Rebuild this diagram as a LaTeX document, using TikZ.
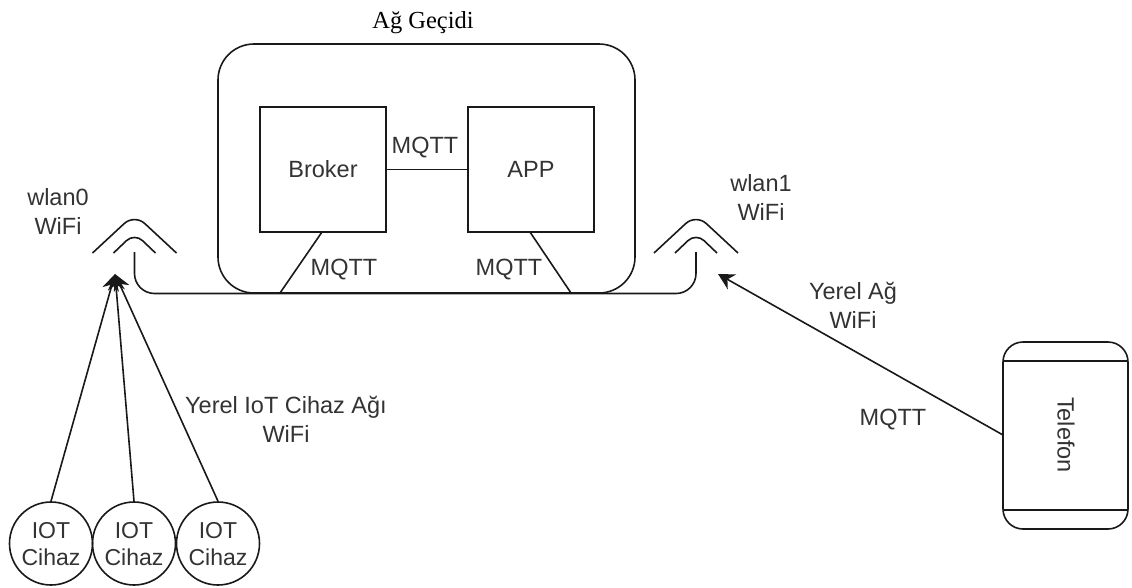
\documentclass[tikz,border=0pt]{standalone}
\usepackage{fontspec}
\setmainfont{Liberation Sans}
\newfontfamily\serifa{Liberation Serif}
\usetikzlibrary{arrows.meta}
\tikzset{
  ln/.style={draw=black!90,line width=1.6pt},
  lab/.style={font=\fontsize{23.5}{29}\selectfont,text=black!80,align=center,inner sep=0pt},
  box/.style={ln,minimum width=126pt,minimum height=125pt,inner sep=0pt},
  iot/.style={ln,circle,minimum size=83pt,inner sep=0pt,text depth=-1pt,font=\fontsize{23}{27}\selectfont,text=black!80,align=center},
  tip/.style={-{Stealth[length=16pt,width=17pt]}}
}
\begin{document}
\begin{tikzpicture}[x=1pt,y=-1pt]
\useasboundingbox (0,0) rectangle (1132,587);
% gateway
\draw[ln,rounded corners=36pt] (218,293) rectangle (635,44);
\node[lab,font=\serifa\fontsize{24.5}{28}\selectfont,text=black] (title) at (423,23) {Ağ Geçidi};
\node[box,lab,draw=black!90] (broker) at (323,169.5) {Broker};
\node[box,lab,draw=black!90] (app) at (531,169.5) {APP};
\draw[ln] (broker) -- (app);
\node[lab] (mq1) at (425,148) {MQTT};
% antennas
\coordinate (a0) at (134.5,252);
\coordinate (a1) at (696,252);
\coordinate (b0) at (280,293);
\coordinate (b1) at (571,293);
\coordinate (t0) at (322,232);
\coordinate (t1) at (530,232);
\draw[ln,rounded corners=20pt] (a0) -- (134.5,293.5) -- (696,293.5) -- (a1);
\draw[ln] (t0) -- (b0);
\draw[ln] (t1) -- (b1);
\foreach \c in {134.5,696}{
  \draw[ln,rounded corners=14pt] (\c-42,253) -- (\c,214) -- (\c+42,253);
  \draw[ln,rounded corners=11pt] (\c-21,253) -- (\c,233) -- (\c+21,253);
}
\node[lab] (m2) at (344,270) {MQTT};
\node[lab] (m3) at (509,270) {MQTT};
\node[lab] (w0) at (58,211) {wlan0\\WiFi};
\node[lab] (w1) at (761,197) {wlan1\\WiFi};
% iot
\node[iot] (d1) at (51,543.5) {IOT\\Cihaz};
\node[iot] (d2) at (134,543.5) {IOT\\Cihaz};
\node[iot] (d3) at (218,543.5) {IOT\\Cihaz};
\coordinate (rx) at (115,274);
\draw[ln,tip] (d1.north) -- (rx);
\draw[ln,tip] (d2.north) -- (rx);
\draw[ln,tip] (d3.north) -- (rx);
\node[lab] (l1) at (286,419) {Yerel IoT Cihaz Ağı\\WiFi};
% phone
\draw[ln,rounded corners=20pt] (1003,342) rectangle (1128,529);
\coordinate (pa) at (1003,361); \coordinate (pb) at (1128,361);
\coordinate (pc) at (1003,510); \coordinate (pd) at (1128,510);
\draw[ln] (pa) -- (pb);
\draw[ln] (pc) -- (pd);
\node[lab,rotate=-90] (tel) at (1066,435) {Telefon};
\coordinate (ph) at (1003,435);
\coordinate (rx1) at (718,274);
\draw[ln,tip] (ph) -- (rx1);
\node[lab] (l2) at (853,305) {Yerel Ağ\\WiFi};
\node[lab] (m4) at (893,420) {MQTT};
\end{tikzpicture}
\end{document}
